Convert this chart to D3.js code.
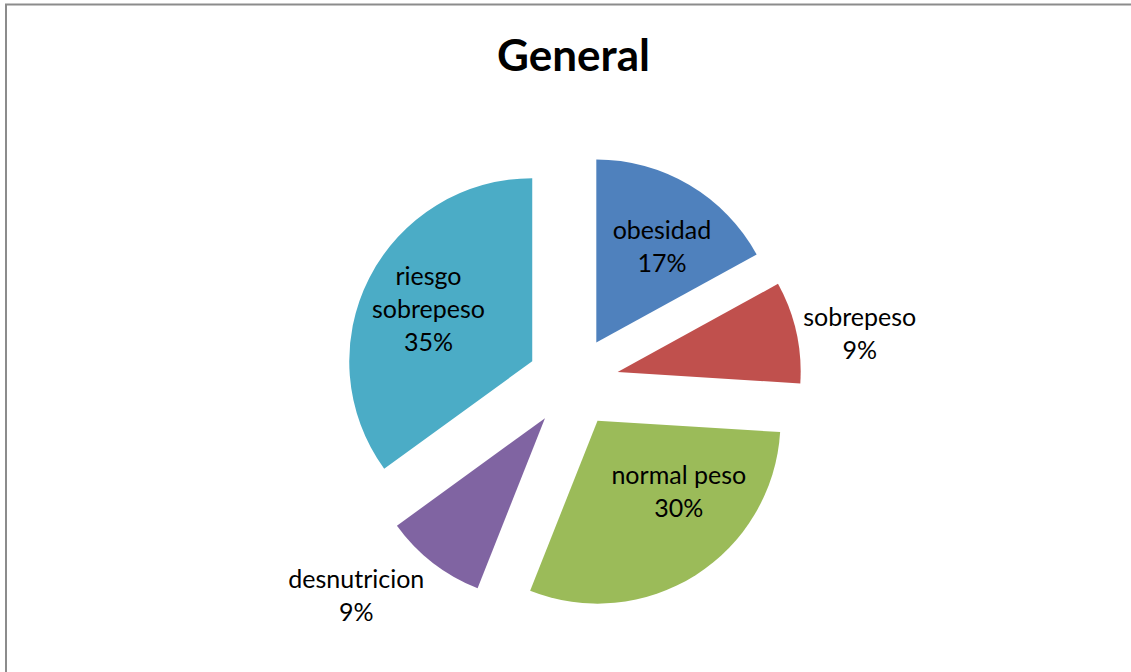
<!DOCTYPE html>
<html>
<head>
<meta charset="utf-8">
<script src="https://cdn.jsdelivr.net/npm/d3@7"></script>
<style>
  html, body { margin: 0; padding: 0; background: #ffffff; }
  svg { display: block; }
</style>
</head>
<body>
<svg id="chart" width="1131" height="672"></svg>
<script>
// Nutritional status distribution ("General")
const categories = ["obesidad", "sobrepeso", "normal peso", "desnutricion", "riesgo sobrepeso"];
const values = [17, 9, 30, 9, 35];
const labelLines = [["obesidad", "17%"], ["sobrepeso", "9%"], ["normal peso", "30%"], ["desnutricion", "9%"], ["riesgo", "sobrepeso", "35%"]];
const colors = ["#4F81BD", "#C0504D", "#9BBB59", "#8064A2", "#4BACC6"];

const width = 1131, height = 672;
const cx = 573, cy = 382;
const radius = 183;
const explode = radius * 0.25;
const lineHeight = 33;

// Label offsets from the default in-slice label point (outside labels sit further out)
const labelNudge = [[7, 4.5], [129.5, -12.5], [19.5, -25], [-118, 87], [-1, 1]];

const svg = d3.select("#chart");

// Chart frame
svg.append("rect")
  .attr("x", 6).attr("y", 4.5)
  .attr("width", 1140).attr("height", 700)
  .attr("fill", "none")
  .attr("stroke", "#8c8c8c")
  .attr("stroke-width", 2);

// Title
svg.append("text")
  .attr("x", 573.5).attr("y", 71)
  .attr("text-anchor", "middle")
  .style("font-family", "Lato, 'Open Sans', sans-serif")
  .style("font-weight", "bold")
  .style("font-size", "44px")
  .attr("fill", "#000")
  .text("General");

const data = categories.map((c, i) => ({ name: c, value: values[i], color: colors[i], lines: labelLines[i], nudge: labelNudge[i] }));

const pie = d3.pie().value(d => d.value).sort(null).startAngle(0).endAngle(2 * Math.PI);
const arc = d3.arc().innerRadius(0).outerRadius(radius);
const labelArc = d3.arc().innerRadius(radius * 0.63).outerRadius(radius * 0.63);

const arcs = pie(data);

const g = svg.append("g").attr("transform", `translate(${cx},${cy})`);

function offset(a, dist) {
  const mid = (a.startAngle + a.endAngle) / 2;
  return [Math.sin(mid) * dist, -Math.cos(mid) * dist];
}

// Exploded slices
g.selectAll("path.slice")
  .data(arcs)
  .join("path")
  .attr("class", "slice")
  .attr("d", arc)
  .attr("fill", d => d.data.color)
  .attr("transform", d => {
    const [ox, oy] = offset(d, explode);
    return `translate(${ox},${oy})`;
  });

// Data labels
g.selectAll("text.label")
  .data(arcs)
  .join("text")
  .attr("class", "label")
  .attr("text-anchor", "middle")
  .style("font-family", "Lato, 'Open Sans', sans-serif")
  .style("font-size", "25px")
  .attr("fill", "#000")
  .each(function(d) {
    const [ox, oy] = offset(d, explode);
    const [lx, ly] = labelArc.centroid(d);
    const x = ox + lx + d.data.nudge[0];
    const y = oy + ly + d.data.nudge[1];
    const n = d.data.lines.length;
    const t = d3.select(this);
    d.data.lines.forEach((line, i) => {
      t.append("tspan")
        .attr("x", x)
        .attr("y", y + (i - (n - 1) / 2) * lineHeight + 8)
        .text(line);
    });
  });
</script>
</body>
</html>
